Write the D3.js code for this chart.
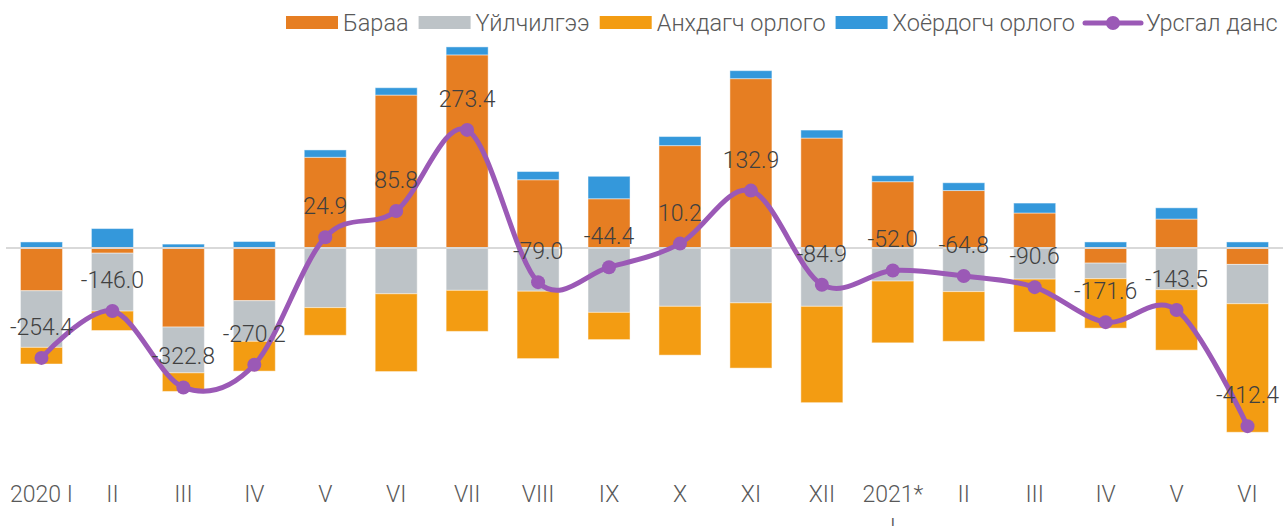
<!DOCTYPE html>
<html>
<head>
<meta charset="utf-8">
<script src="https://cdn.jsdelivr.net/npm/d3@7"></script>
<style>
  body { margin: 0; background: #fff; }
  svg { display: block; font-family: Roboto, "Noto Sans", sans-serif; }
</style>
</head>
<body>
<div id="chart"></div>
<script>
// Periods (second line after "|" is rendered as a new line)
const periods = ['2020 I', 'II', 'III', 'IV', 'V', 'VI', 'VII', 'VIII', 'IX', 'X', 'XI', 'XII',
  '2021*|I', 'II', 'III', 'IV', 'V', 'VI'];

// Components of the current account
const goods = [-99, -12, -183, -122, 210, 354, 447, 158, 114, 237, 392, 254.5,
  153.5, 133, 81, -35, 67, -38];
const services = [-131, -134, -106, -94, -138, -106, -98, -100, -149, -135, -127, -135,
  -76.5, -101, -72, -36, -96.5, -91];
const primaryIncome = [-38.5, -45, -43, -69, -64, -180, -95, -156, -63, -113, -151, -223,
  -143, -115, -122.5, -114.5, -140, -297.5];
const secondaryIncome = [14, 45, 9, 15, 17, 17, 18.5, 19, 52, 21, 18.5, 18.5,
  14, 18, 23, 14, 26, 14];
const currentAccount = [-254.4, -146.0, -322.8, -270.2, 24.9, 85.8, 273.4, -79.0, -44.4,
  10.2, 132.9, -84.9, -52.0, -64.8, -90.6, -171.6, -143.5, -412.4];

const SERIES = [
  { key: 'goods', label: 'Бараа', color: '#e67e22', values: goods },
  { key: 'services', label: 'Үйлчилгээ', color: '#bdc3c7', values: services },
  { key: 'primary', label: 'Анхдагч орлого', color: '#f39c12', values: primaryIncome },
  { key: 'secondary', label: 'Хоёрдогч орлого', color: '#3498db', values: secondaryIncome },
];
const LINE = { label: 'Урсгал данс', color: '#9b59b6' };

const W = 1286;
const H = 526;

const svg = d3.select('#chart').append('svg')
  .attr('width', W)
  .attr('height', H);

const rows = periods.map((p, i) => {
  const row = { period: p, i };
  SERIES.forEach((s) => { row[s.key] = s.values[i]; });
  return row;
});

const stacked = d3.stack()
  .keys(SERIES.map((s) => s.key))
  .offset(d3.stackOffsetDiverging)(rows);

const x = d3.scaleBand()
  .domain(d3.range(periods.length))
  .range([6, 1283])
  .paddingInner(0.408)
  .paddingOuter(0.204);

const y = d3.scaleLinear()
  .domain([-500, 500])
  .range([464, 32]);

// bars
const barG = svg.append('g').attr('class', 'bars');
stacked.forEach((layer, li) => {
  barG.append('g')
    .attr('fill', SERIES[li].color)
    .selectAll('rect')
    .data(layer)
    .join('rect')
    .attr('x', (d) => x(d.data.i))
    .attr('width', x.bandwidth())
    .attr('y', (d) => y(Math.max(d[0], d[1])))
    .attr('height', (d) => Math.abs(y(d[0]) - y(d[1])))
    .attr('stroke', 'rgba(255,255,255,0.45)')
    .attr('stroke-width', 1);
});

// zero line
svg.append('line')
  .attr('x1', x.range()[0])
  .attr('x2', x.range()[1])
  .attr('y1', y(0))
  .attr('y2', y(0))
  .attr('stroke', '#d9d9d9')
  .attr('stroke-width', 2);

// x axis labels
const xLabels = svg.append('g')
  .attr('class', 'x-labels')
  .attr('font-size', 23)
  .attr('font-weight', 300)
  .attr('fill', '#595959')
  .attr('text-anchor', 'middle');

xLabels.selectAll('text')
  .data(periods)
  .join('text')
  .attr('x', (d, i) => x(i) + x.bandwidth() / 2)
  .attr('y', 502)
  .each(function (d) {
    const parts = d.split('|');
    d3.select(this).selectAll('tspan')
      .data(parts)
      .join('tspan')
      .attr('x', d3.select(this).attr('x'))
      .attr('dy', (t, j) => (j === 0 ? 0 : 33))
      .text((t) => t);
  });

// current account line
const cx = (i) => x(i) + x.bandwidth() / 2;
const line = d3.line()
  .x((d, i) => cx(i))
  .y((d) => y(d))
  .curve(d3.curveCardinal.tension(0));

svg.append('path')
  .datum(currentAccount)
  .attr('fill', 'none')
  .attr('stroke', LINE.color)
  .attr('stroke-width', 5)
  .attr('stroke-linecap', 'round')
  .attr('d', line);

svg.append('g')
  .selectAll('circle')
  .data(currentAccount)
  .join('circle')
  .attr('cx', (d, i) => cx(i))
  .attr('cy', (d) => y(d))
  .attr('r', 7)
  .attr('fill', LINE.color);

// data labels (plain hyphen for negatives, as in the source)
svg.append('g')
  .attr('font-size', 23)
  .attr('font-weight', 300)
  .attr('fill', '#404040')
  .attr('text-anchor', 'middle')
  .selectAll('text')
  .data(currentAccount)
  .join('text')
  .attr('x', (d, i) => cx(i))
  .attr('y', (d) => y(d) - 23)
  .text((d) => d.toFixed(1));

// legend
const legend = svg.append('g')
  .attr('class', 'legend')
  .attr('font-size', 23.5)
  .attr('font-weight', 300)
  .attr('fill', '#595959');

let lx = 286;
const ly = 23;
SERIES.forEach((s) => {
  legend.append('rect')
    .attr('x', lx)
    .attr('y', ly - 7)
    .attr('width', 52)
    .attr('height', 13)
    .attr('fill', s.color);
  const t = legend.append('text')
    .attr('x', lx + 57)
    .attr('y', ly + 8)
    .text(s.label);
  lx += 57 + t.node().getComputedTextLength() + 10;
});

legend.append('line')
  .attr('x1', lx)
  .attr('x2', lx + 56)
  .attr('y1', ly)
  .attr('y2', ly)
  .attr('stroke', LINE.color)
  .attr('stroke-width', 5)
  .attr('stroke-linecap', 'round');
legend.append('circle')
  .attr('cx', lx + 28)
  .attr('cy', ly)
  .attr('r', 7)
  .attr('fill', LINE.color);
legend.append('text')
  .attr('x', lx + 61)
  .attr('y', ly + 8)
  .text(LINE.label);
</script>
</body>
</html>
